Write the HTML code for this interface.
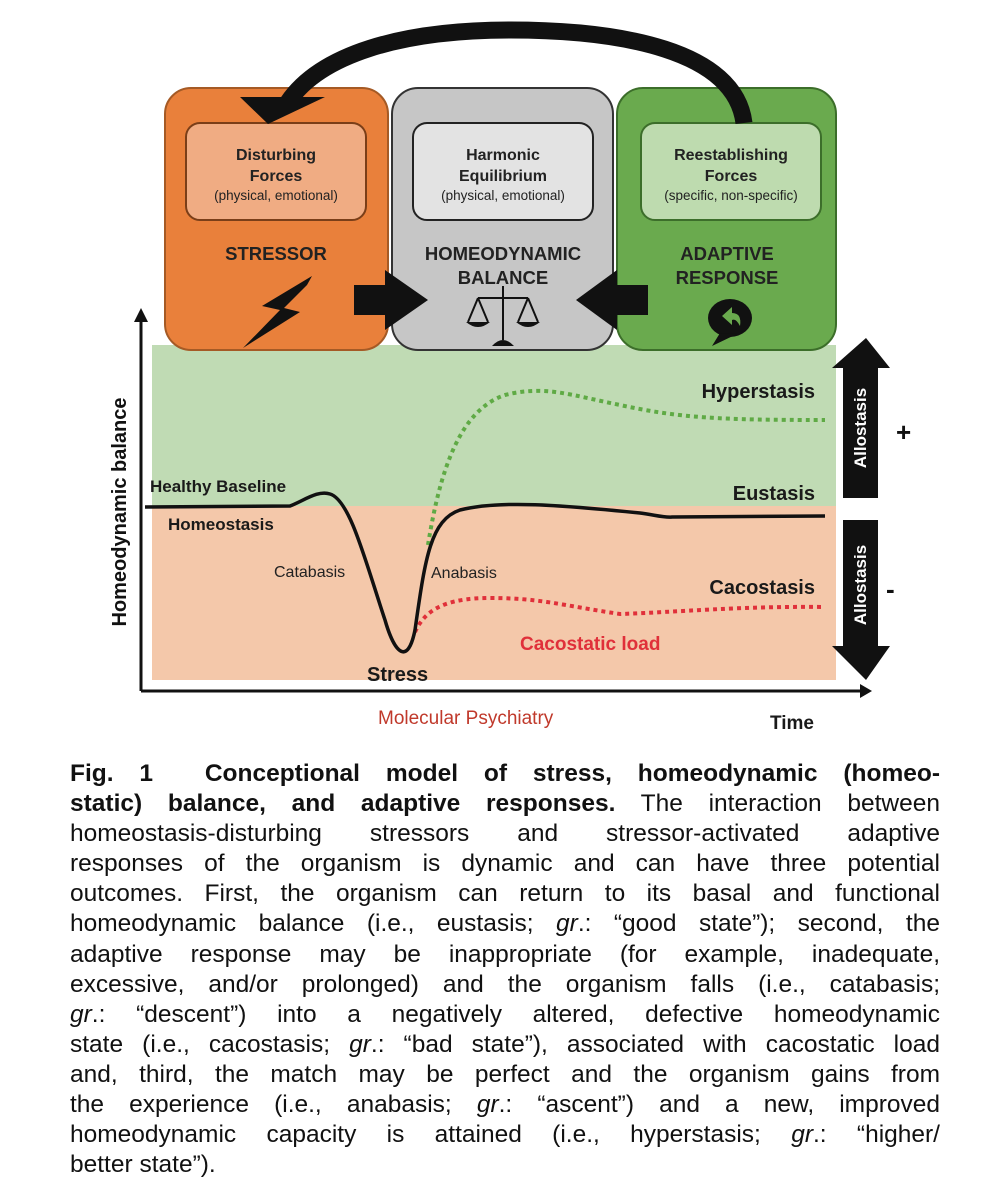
<!DOCTYPE html>
<html><head><meta charset="utf-8"><style>
body{margin:0;background:#fff;width:986px;height:1200px;position:relative;overflow:hidden;font-family:"Liberation Sans",sans-serif}
svg{position:absolute;left:0;top:0}
.cap{position:absolute;left:70px;width:870px;top:759px;font-size:24.5px;line-height:30.1px;color:#111}
.cap div{text-align:justify;text-align-last:justify;white-space:nowrap;overflow:visible}
.cap div.l{text-align-last:left}
</style></head><body>
<svg width="986" height="760" viewBox="0 0 986 760" font-family="Liberation Sans, sans-serif">
<rect x="152" y="345" width="684" height="162" fill="#c0dbb4"/>
<rect x="152" y="506" width="684" height="174" fill="#f4c8aa"/>
<rect x="165" y="88" width="223" height="262" rx="26" fill="#e9803b" stroke="#a55a25" stroke-width="2"/>
<rect x="392" y="88" width="221" height="262" rx="26" fill="#c6c6c6" stroke="#333" stroke-width="2"/>
<rect x="617" y="88" width="219" height="262" rx="26" fill="#6aaa4e" stroke="#3c6e2a" stroke-width="2"/>
<rect x="186" y="123" width="180" height="97" rx="14" fill="#f0ac83" stroke="#7a3e18" stroke-width="2"/>
<rect x="413" y="123" width="180" height="97" rx="14" fill="#e3e3e3" stroke="#222" stroke-width="2"/>
<rect x="641" y="123" width="180" height="97" rx="14" fill="#bedbaf" stroke="#3c6e2a" stroke-width="2"/>
<g font-weight="bold" font-size="16" text-anchor="middle" fill="#222">
<text x="276" y="160">Disturbing</text><text x="276" y="181">Forces</text>
<text x="503" y="160">Harmonic</text><text x="503" y="181">Equilibrium</text>
<text x="731" y="160">Reestablishing</text><text x="731" y="181">Forces</text>
</g>
<g font-size="13.5" text-anchor="middle" fill="#222">
<text x="276" y="200">(physical, emotional)</text>
<text x="503" y="200">(physical, emotional)</text>
<text x="731" y="200">(specific, non-specific)</text>
</g>
<g font-weight="bold" font-size="18.5" text-anchor="middle" fill="#222">
<text x="276" y="260">STRESSOR</text>
<text x="503" y="260">HOMEODYNAMIC</text><text x="503" y="284">BALANCE</text>
<text x="727" y="260">ADAPTIVE</text><text x="727" y="284">RESPONSE</text>
</g>
<!-- lightning -->
<polygon points="312,276 262,306 280,310 243,348 300,312 284,308 307,285" fill="#111"/>
<!-- scales -->
<g stroke="#111" stroke-width="2" fill="none">
<line x1="503" y1="286" x2="503" y2="340"/><line x1="478" y1="298" x2="528" y2="298"/>
<path d="M478 298 L468 322 M478 298 L488 322 M528 298 L518 322 M528 298 L538 322"/>
</g>
<path d="M466 322 Q478 332 490 322Z M516 322 Q528 332 540 322Z" fill="#111"/>
<path d="M492 346 Q503 334 514 346Z" fill="#111"/>
<!-- speech bubble -->
<ellipse cx="730" cy="318" rx="22" ry="19" fill="#111"/>
<polygon points="720,333 712,346 737,334" fill="#111"/>
<path d="M722 316 L732 307 L732 313 Q742 313 740 326 Q736 318 732 320 L732 325Z" fill="#6aaa4e"/>
<!-- side arrows -->
<polygon points="354,285 385,285 385,270 428,300 385,330 385,315 354,315" fill="#111"/>
<polygon points="648,285 617,285 617,270 576,300 617,330 617,315 648,315" fill="#111"/>
<!-- top arc -->
<path d="M744 123 C735 50 620 30 510 30 C400 30 320 55 288 102" fill="none" stroke="#111" stroke-width="17"/>
<polygon points="240,97 325,97 268,124" fill="#111"/>
<!-- axes -->
<line x1="141" y1="320" x2="141" y2="691" stroke="#111" stroke-width="3"/>
<polygon points="134,322 141,308 148,322" fill="#111"/>
<line x1="141" y1="691" x2="864" y2="691" stroke="#111" stroke-width="3"/>
<polygon points="860,684 872,691 860,698" fill="#111"/>
<text transform="translate(126,512) rotate(-90)" font-size="20" font-weight="bold" text-anchor="middle" fill="#111">Homeodynamic balance</text>
<!-- curves -->
<path d="M428 545 C440 470 460 410 505 395 C545 385 570 395 620 405 C680 418 720 420 825 420" fill="none" stroke="#5faa45" stroke-width="4" stroke-dasharray="4 4"/>
<path d="M415 632 C425 610 445 598 490 598 C540 598 560 605 620 614 C680 612 740 606 825 607" fill="none" stroke="#e0303a" stroke-width="4" stroke-dasharray="4 4"/>
<path d="M145 507 L290 506 C305 500 318 490 330 494 C350 500 365 560 385 620 C395 655 408 665 415 630 C425 560 430 520 460 510 C500 500 560 505 640 513 C655 515 665 518 672 517 L825 516" fill="none" stroke="#111" stroke-width="3.5"/>
<g font-weight="bold" fill="#1a1a1a">
<text x="150" y="492" font-size="17">Healthy Baseline</text>
<text x="168" y="530" font-size="17">Homeostasis</text>
<text x="367" y="681" font-size="20">Stress</text>
<text x="815" y="398" font-size="20" text-anchor="end">Hyperstasis</text>
<text x="815" y="500" font-size="20" text-anchor="end">Eustasis</text>
<text x="815" y="594" font-size="20" text-anchor="end">Cacostasis</text>
<text x="520" y="650" font-size="19" fill="#e0303a">Cacostatic load</text>
<text x="814" y="729" font-size="19" text-anchor="end">Time</text>
</g>
<text x="274" y="577" font-size="16" fill="#222">Catabasis</text>
<text x="431" y="578" font-size="16" fill="#222">Anabasis</text>
<text x="378" y="724" font-size="19" fill="#c0392b">Molecular Psychiatry</text>
<polygon points="866,338 890,368 878,368 878,498 843,498 843,368 832,368" fill="#111"/>
<polygon points="843,520 878,520 878,646 890,646 866,680 832,646 843,646" fill="#111"/>
<text transform="translate(866,428) rotate(-90)" font-size="17" font-weight="bold" fill="#fff" text-anchor="middle">Allostasis</text>
<text transform="translate(866,585) rotate(-90)" font-size="17" font-weight="bold" fill="#fff" text-anchor="middle">Allostasis</text>
<text x="896" y="441" font-size="26" font-weight="bold" fill="#111">+</text>
<text x="886" y="598" font-size="26" font-weight="bold" fill="#111">-</text>
</svg>
<div class="cap">
<div><b>Fig. 1&nbsp; Conceptional model of stress, homeodynamic (homeo-</b></div>
<div><b>static) balance, and adaptive responses.</b> The interaction between</div>
<div>homeostasis-disturbing stressors and stressor-activated adaptive</div>
<div>responses of the organism is dynamic and can have three potential</div>
<div>outcomes. First, the organism can return to its basal and functional</div>
<div>homeodynamic balance (i.e., eustasis; <i>gr</i>.: “good state”); second, the</div>
<div>adaptive response may be inappropriate (for example, inadequate,</div>
<div>excessive, and/or prolonged) and the organism falls (i.e., catabasis;</div>
<div><i>gr</i>.: “descent”) into a negatively altered, defective homeodynamic</div>
<div>state (i.e., cacostasis; <i>gr</i>.: “bad state”), associated with cacostatic load</div>
<div>and, third, the match may be perfect and the organism gains from</div>
<div>the experience (i.e., anabasis; <i>gr</i>.: “ascent”) and a new, improved</div>
<div>homeodynamic capacity is attained (i.e., hyperstasis; <i>gr</i>.: “higher/</div>
<div class="l">better state”).</div>
</div>
</body></html>
